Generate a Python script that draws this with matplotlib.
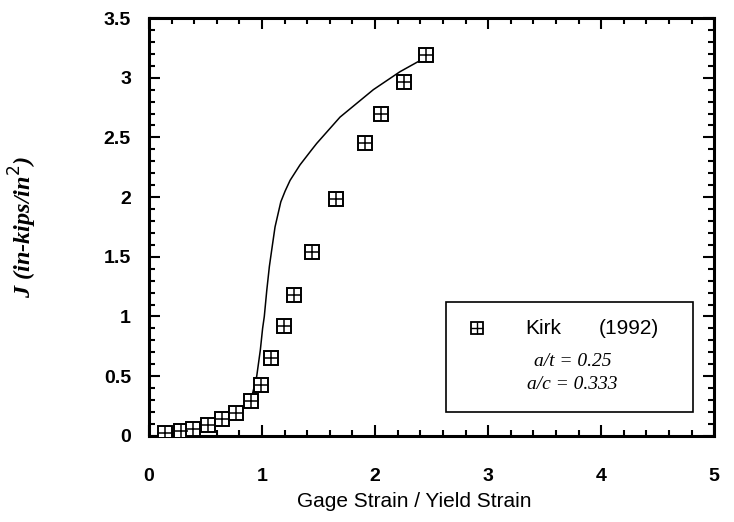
import numpy as np
import matplotlib.pyplot as plt
from matplotlib.ticker import MultipleLocator
from matplotlib.patches import Rectangle

# Kirk (1992) measured points
kirk_x = [0.14, 0.28, 0.39, 0.52, 0.65, 0.77, 0.90, 0.99, 1.08, 1.19, 1.28, 1.44, 1.65, 1.91, 2.05, 2.26, 2.45]
kirk_j = [0.02, 0.04, 0.06, 0.09, 0.14, 0.19, 0.29, 0.43, 0.65, 0.92, 1.18, 1.54, 1.98, 2.45, 2.70, 2.96, 3.19]

# analysis curve
fit_x = [0.14, 0.40, 0.65, 0.85, 0.91, 0.953, 0.985, 1.005, 1.02, 1.042, 1.065, 1.086, 1.115, 1.166,
         1.204, 1.248, 1.336, 1.434, 1.484, 1.69, 1.985, 2.22, 2.41, 2.45]
fit_j = [0.01, 0.05, 0.13, 0.25, 0.33, 0.50, 0.72, 0.90, 1.00, 1.22, 1.42, 1.56, 1.75, 1.96,
         2.05, 2.14, 2.27, 2.39, 2.45, 2.67, 2.90, 3.05, 3.15, 3.19]

sans = 'Liberation Sans'
serif = 'Liberation Serif'

fig = plt.figure(figsize=(7.34, 5.22), dpi=100)
ax = fig.add_axes([0.203, 0.165, 0.770, 0.8005])

ax.plot(fit_x, fit_j, color='black', lw=1.1, zorder=2)
ax.plot(kirk_x, kirk_j, ls='none', marker='s', ms=9.5, mfc='white', mec='black', mew=1.4, zorder=3)
ax.plot(kirk_x, kirk_j, ls='none', marker='+', ms=9.5, mec='black', mew=1.1, zorder=4)

ax.set_xlim(0, 5)
ax.set_ylim(0, 3.5)
ax.xaxis.set_major_locator(MultipleLocator(1))
ax.xaxis.set_minor_locator(MultipleLocator(0.2))
ax.yaxis.set_major_locator(MultipleLocator(0.5))
ax.yaxis.set_minor_locator(MultipleLocator(0.1))
ax.tick_params(which='both', direction='in', top=True, right=True, width=1.5)
ax.tick_params(which='major', length=8)
ax.tick_params(which='minor', length=4)
ax.tick_params(axis='x', which='major', pad=23)
ax.tick_params(axis='y', which='major', pad=13)
for s in ax.spines.values():
    s.set_linewidth(2.2)

ax.xaxis.set_major_formatter(plt.FuncFormatter(lambda v, p: f'{v:g}'))
ax.yaxis.set_major_formatter(plt.FuncFormatter(lambda v, p: f'{v:g}'))
for lab in ax.get_xticklabels() + ax.get_yticklabels():
    lab.set_fontfamily(sans)
    lab.set_fontweight('bold')
    lab.set_fontsize(14)

ax.set_xlabel('Gage Strain / Yield Strain', fontfamily=sans, fontsize=15)
ax.xaxis.set_label_coords(0.47, -0.135)
ax.set_ylabel(r'J (in-kips/in$^2$)', fontfamily=serif, fontstyle='italic', fontweight='bold',
              fontsize=17.5)
ax.yaxis.set_label_coords(-0.195, 0.5)

# legend box
ax.add_patch(Rectangle((0.526, 0.057), 0.437, 0.264, transform=ax.transAxes,
                       fill=False, ec='black', lw=1.2, zorder=5))
ax.plot([0.58], [0.258], transform=ax.transAxes, ls='none', marker='s', ms=8.5,
        mfc='white', mec='black', mew=1.3, zorder=6)
ax.plot([0.58], [0.258], transform=ax.transAxes, ls='none', marker='+', ms=8.5,
        mec='black', mew=1.0, zorder=7)
ax.text(0.665, 0.258, 'Kirk', transform=ax.transAxes, fontfamily=sans, fontsize=15, va='center')
ax.text(0.795, 0.258, '(1992)', transform=ax.transAxes, fontfamily=sans, fontsize=15, va='center')
ax.text(0.749, 0.179, 'a/t = 0.25', transform=ax.transAxes, fontfamily=serif, fontstyle='italic',
        fontsize=14, ha='center', va='center')
ax.text(0.749, 0.122, 'a/c = 0.333', transform=ax.transAxes, fontfamily=serif, fontstyle='italic',
        fontsize=14, ha='center', va='center')

fig.savefig('out.png', dpi=100)
